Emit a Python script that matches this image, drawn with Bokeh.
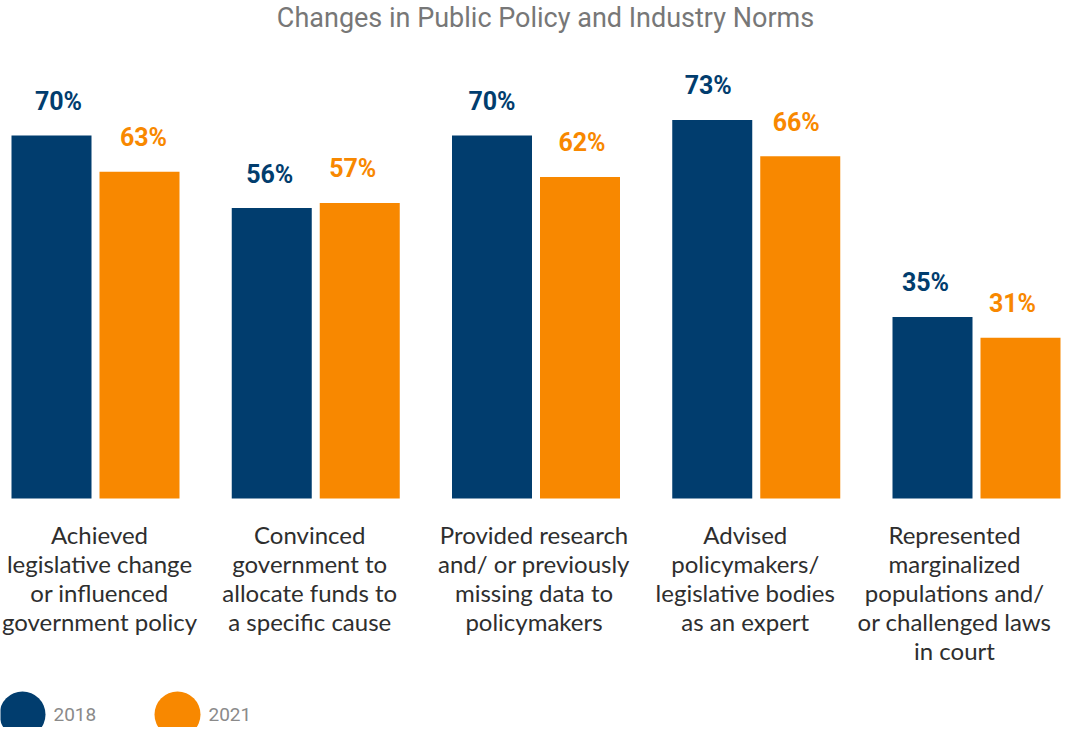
from bokeh.plotting import figure
from bokeh.models import ColumnDataSource, Range1d
from bokeh.core.properties import value
from bokeh.embed import file_html
from bokeh.resources import INLINE

# ---- data ----
title_text = "Changes in Public Policy and Industry Norms"
categories = [
    "Achieved\nlegislative change\nor influenced\ngovernment policy",
    "Convinced\ngovernment to\nallocate funds to\na specific cause",
    "Provided research\nand/ or previously\nmissing data to\npolicymakers",
    "Advised\npolicymakers/\nlegislative bodies\nas an expert",
    "Represented\nmarginalized\npopulations and/\nor challenged laws\nin court",
]
values_2018 = [70, 56, 70, 73, 35]
values_2021 = [63, 57, 62, 66, 31]
series_names = ["2018", "2021"]

# ---- style / layout ----
NAVY = "#013D6E"
ORANGE = "#F88800"
GRAY = "#777777"
DARK = "#2E2E2E"

W, H = 1062, 727
PX_PER_GROUP = 220.25
PX_PER_PCT = 5.186
X0_PX, Y0_PX = 95.0, 498.0   # group 0 center / zero line in frame px

def xr(px):
    return (px - X0_PX) / PX_PER_GROUP

def yr(px):
    return (Y0_PX - px) / PX_PER_PCT

p = figure(width=W, height=H, output_backend="svg", toolbar_location=None,
           x_range=Range1d(xr(0), xr(W)), y_range=Range1d(yr(H), yr(0)),
           x_axis_location=None, y_axis_location=None, min_border=0,
           outline_line_color=None, background_fill_color="white",
           border_fill_color="white")
p.xgrid.visible = False
p.ygrid.visible = False

n = len(categories)
idx = list(range(n))
off = 44 / PX_PER_GROUP
bw = 80 / PX_PER_GROUP

# per-group horizontal nudges of the value labels (px)
lab_dx18 = [7, -2, 0, -4, -7]
lab_dx21 = [4, -7, 2, -4, -8]

src = ColumnDataSource(dict(
    x18=[i - off for i in idx], x21=[i + off for i in idx],
    v18=values_2018, v21=values_2021,
    t18=[f"{v}%" for v in values_2018], t21=[f"{v}%" for v in values_2021],
    dx18=lab_dx18, dx21=lab_dx21,
))

p.vbar(x="x18", top="v18", bottom=0, width=bw, source=src, fill_color=NAVY, line_color=None)
p.vbar(x="x21", top="v21", bottom=0, width=bw, source=src, fill_color=ORANGE, line_color=None)

lab_kw = dict(text_font=value("Roboto"), text_font_style="bold", text_font_size="25px",
              text_align="center", text_baseline="middle", y_offset=-34)
p.text(x="x18", y="v18", text="t18", source=src, text_color=NAVY, x_offset="dx18", **lab_kw)
p.text(x="x21", y="v21", text="t21", source=src, text_color=ORANGE, x_offset="dx21", **lab_kw)

# category labels
label_shift_px = [4, -6, -2, -11, -22]
cat_src = ColumnDataSource(dict(
    x=[i + s / PX_PER_GROUP for i, s in zip(idx, label_shift_px)],
    y=[yr(Y0_PX + 21)] * n,
    t=categories,
))
p.text(x="x", y="y", text="t", source=cat_src, text_font=value("Lato"),
       text_font_size="24px", text_color=DARK, text_align="center",
       text_baseline="top", text_line_height=1.0)

# title
p.text(x=[xr(545)], y=[yr(17)], text=[title_text], text_font=value("Roboto"),
       text_font_size="27px", text_color=GRAY, text_align="center",
       text_baseline="middle")

# legend
leg_x = [xr(22), xr(177)]
leg_y = yr(714)
p.scatter(x=leg_x, y=[leg_y] * 2, size=46, marker="circle",
          fill_color=[NAVY, ORANGE], line_color=None)
p.text(x=[xr(53), xr(208)], y=[leg_y] * 2, text=series_names,
       text_font=value("Roboto"), text_font_size="19px", text_color="#8A8A8A",
       text_align="left", text_baseline="middle")

open("out.html", "w").write(file_html(p, INLINE))
